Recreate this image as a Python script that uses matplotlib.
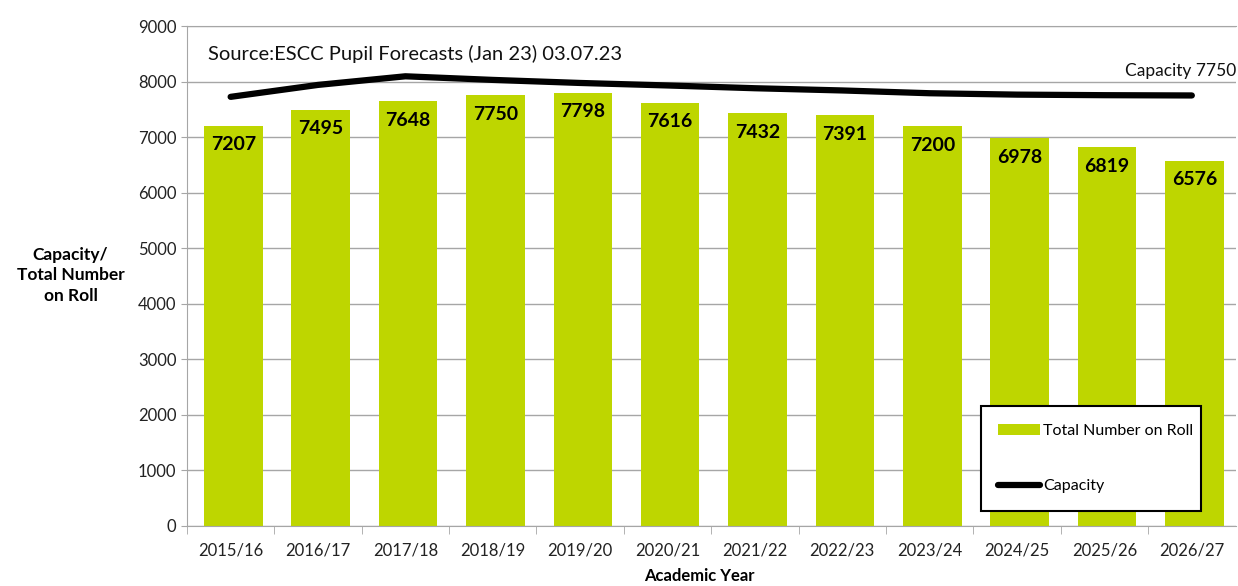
import matplotlib.pyplot as plt
from matplotlib.lines import Line2D
from matplotlib.patches import Patch

years = ['2015/16', '2016/17', '2017/18', '2018/19', '2019/20', '2020/21',
         '2021/22', '2022/23', '2023/24', '2024/25', '2025/26', '2026/27']
roll = [7207, 7495, 7648, 7750, 7798, 7616, 7432, 7391, 7200, 6978, 6819, 6576]
capacity = [7725, 7940, 8095, 8030, 7975, 7930, 7880, 7840, 7790, 7765, 7755, 7750]

plt.rcParams['font.family'] = ['Lato', 'DejaVu Sans']

fig = plt.figure(figsize=(12.38, 5.86), dpi=100)
ax = fig.add_axes([0.151, 0.1024, 0.847, 0.8532])

x = list(range(len(years)))
bars = ax.bar([xi + 0.03 for xi in x], roll, width=0.67, color='#bed600', zorder=2)
ax.plot(x, capacity, color='black', lw=4.5, solid_capstyle='round', zorder=3)

# etiquetas dentro de las barras
for xi, v in zip(x, roll):
    ax.text(xi + 0.03, v - 190, str(v), ha='center', va='top', fontsize=14,
            fontweight='bold', color='black', zorder=4)

ax.set_ylim(0, 9000)
ax.set_xlim(-0.5, len(years) - 0.5)
ax.set_yticks(range(0, 9001, 1000))
ax.set_xticks(x)
ax.set_xticklabels(years)
ax.yaxis.grid(True, color='#a6a6a6', lw=1, zorder=0)
ax.tick_params(axis='both', labelsize=12, colors='#222222')
ax.tick_params(axis='x', length=0, pad=12)
ax.tick_params(axis='y', length=4, color='#a6a6a6')
ax.set_xticks([i + 0.5 for i in x[:-1]] + [-0.5], minor=True)
ax.tick_params(axis='x', which='minor', length=6, color='#a6a6a6')
ax.spines['right'].set_visible(False)
for s in ['left', 'bottom', 'top']:
    ax.spines[s].set_color('#a6a6a6')

ax.text(0.02, 0.945, 'Source:ESCC Pupil Forecasts (Jan 23) 03.07.23',
        transform=ax.transAxes, fontsize=14.5, va='center', ha='left', color='#111111')
ax.text(10.87, 8190, 'Capacity 7750', fontsize=12.5, ha='center', va='center',
        color='#111111', bbox=dict(facecolor='white', edgecolor='none', pad=1), zorder=3)

fig.text(0.057, 0.53, 'Capacity/\nTotal Number\non Roll', ha='center', va='center',
         fontsize=12.5, fontweight='bold', linespacing=1.35)
fig.text(0.5645, 0.003, 'Academic Year', ha='center', va='bottom',
         fontsize=12, fontweight='bold')

handles = [Patch(facecolor='#bed600', edgecolor='none'),
           Line2D([0], [0], color='black', lw=4.5, solid_capstyle='round')]
leg = ax.legend(handles, ['Total Number on Roll', 'Capacity'],
                loc='lower left', bbox_to_anchor=(0.757, 0.03, 0.21, 0.22),
                mode='expand', fontsize=11.5, frameon=True, fancybox=False,
                framealpha=1, labelspacing=2.6, handlelength=2.6, handletextpad=0.2,
                borderaxespad=0, borderpad=1.1)
leg.get_frame().set_edgecolor('black')
leg.get_frame().set_linewidth(1.5)
leg.set_zorder(5)

fig.savefig('out.png', dpi=100)
